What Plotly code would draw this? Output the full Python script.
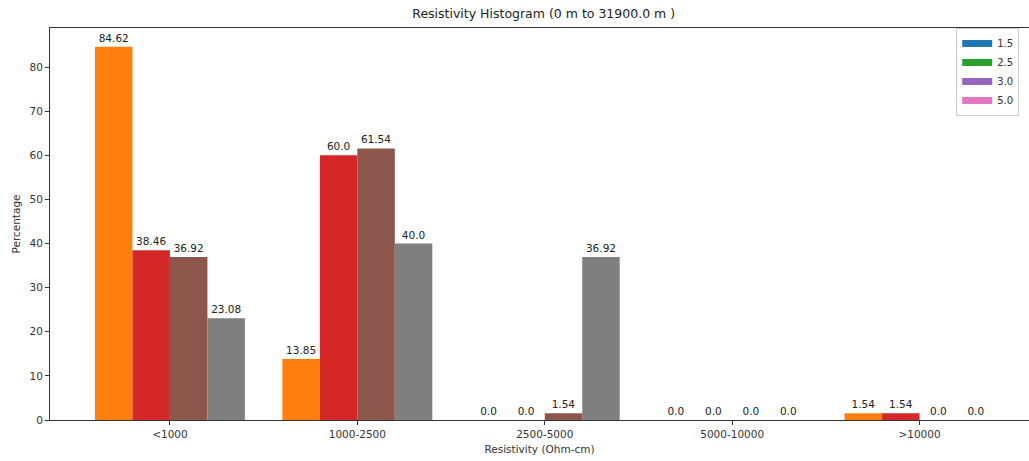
import plotly.graph_objects as go

categories = ["<1000", "1000-2500", "2500-5000", "5000-10000", ">10000"]
series_names = ["1.5", "2.5", "3.0", "5.0"]
values_15 = [84.62, 13.85, 0.0, 0.0, 1.54]
values_25 = [38.46, 60.0, 0.0, 0.0, 1.54]
values_30 = [36.92, 61.54, 1.54, 0.0, 0.0]
values_50 = [23.08, 40.0, 36.92, 0.0, 0.0]
bar_colors = ["#ff7f0e", "#d62728", "#8c564b", "#7f7f7f"]
legend_colors = ["#1f77b4", "#2ca02c", "#9467bd", "#e377c2"]

all_values = [values_15, values_25, values_30, values_50]
xpos = list(range(len(categories)))

fig = go.Figure()
for name, vals, col in zip(series_names, all_values, bar_colors):
    fig.add_trace(go.Bar(
        x=xpos, y=vals, name=name, showlegend=False,
        marker=dict(color=col, line=dict(width=0)),
        text=[str(v) for v in vals], textposition="outside",
        textfont=dict(family="DejaVu Sans", size=10.5, color="#222"),
        cliponaxis=False,
    ))
for name, col in zip(series_names, legend_colors):
    fig.add_trace(go.Scatter(
        x=[None], y=[None], mode="lines", name=name,
        line=dict(color=col, width=7),
    ))

fig.update_layout(
    width=1029, height=461,
    margin=dict(l=50, r=0, t=28, b=41),
    plot_bgcolor="white", paper_bgcolor="white",
    barmode="group", bargap=0.2, bargroupgap=0,
    font=dict(family="DejaVu Sans", size=10.5, color="#333"),
    title=dict(text="Resistivity Histogram (0 m to 31900.0 m )",
               x=543.7 / 1029, xref="container", xanchor="center",
               y=1 - 14 / 461, yref="container", yanchor="middle",
               font=dict(size=12.5, color="#222")),
    legend=dict(x=0.99, y=1.0, xanchor="right", yanchor="top",
                bordercolor="#ccc", borderwidth=1, bgcolor="white",
                itemwidth=30, font=dict(size=10, color="#333"),
                tracegroupgap=0),
    xaxis=dict(range=[-0.64, 4.584], tickmode="array", tickvals=xpos,
               ticktext=categories, showline=True, linecolor="#333",
               linewidth=1, mirror=True, ticks="outside", ticklen=4,
               tickcolor="#333", showgrid=False, zeroline=False,
               title=dict(text="Resistivity (Ohm-cm)", standoff=7,
                          font=dict(size=10.5, color="#333"))),
    yaxis=dict(range=[0, 88.85], tickvals=[0, 10, 20, 30, 40, 50, 60, 70, 80],
               showline=True, linecolor="#333", linewidth=1,
               ticks="outside", ticklen=4, tickcolor="#333",
               showgrid=False, zeroline=False,
               title=dict(text="Percentage", standoff=6,
                          font=dict(size=10.5, color="#333"))),
)

fig.write_html("out.html", config={"displayModeBar": False},
               post_script="document.body.style.margin='0';document.body.style.overflow='hidden';")
